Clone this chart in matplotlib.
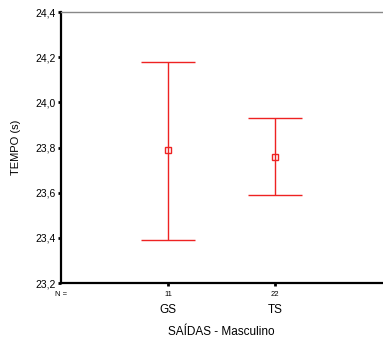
import matplotlib.pyplot as plt
import numpy as np
from matplotlib.ticker import FuncFormatter
import matplotlib.transforms as mtransforms

plt.rcParams['font.family'] = ['Liberation Sans', 'DejaVu Sans']

# Dados
grupos = ["GS", "TS"]
n_amostra = [11, 22]
medias = [23.79, 23.76]
limite_inferior = [23.39, 23.59]
limite_superior = [24.18, 23.93]

fig = plt.figure(figsize=(3.83, 3.47), dpi=100)
ax = fig.add_axes([0.159, 0.184, 0.839, 0.781])

x = np.arange(1, len(grupos) + 1)
erro_inf = np.array(medias) - np.array(limite_inferior)
erro_sup = np.array(limite_superior) - np.array(medias)
ax.errorbar(x, medias, yerr=[erro_inf, erro_sup], fmt='s', color='#ee2222',
            mfc='none', mec='#ee2222', ms=5, mew=1.0, elinewidth=1.0,
            capsize=19.5, capthick=1.0)

ax.set_xlim(0, 3)
ax.set_ylim(23.2, 24.4)
ax.set_yticks(np.arange(23.2, 24.41, 0.2))
ax.yaxis.set_major_formatter(FuncFormatter(lambda v, p: f"{v:.1f}".replace('.', ',')))
ax.set_xticks(x)
ax.set_xticklabels(grupos, fontsize=8.5)
ax.tick_params(axis='x', length=2, width=2, pad=13, direction='out')
ax.tick_params(axis='y', length=2, width=2, labelsize=7.5, pad=2, direction='out')

for lado in ['left', 'bottom']:
    ax.spines[lado].set_linewidth(1.6)
ax.spines['top'].set_color('#888888')
ax.spines['top'].set_linewidth(1.0)
ax.spines['right'].set_visible(False)

# Contagens N abaixo do eixo
trans = mtransforms.blended_transform_factory(ax.transData, ax.transAxes)
for xi, n in zip(x, n_amostra):
    ax.text(xi, -0.03, str(n), transform=trans, ha='center', va='top', fontsize=5.5)
ax.text(0.0, -0.03, "N =", transform=ax.transAxes, ha='center', va='top', fontsize=5.5)

ax.set_ylabel("TEMPO (s)", fontsize=8, labelpad=10)
ax.set_xlabel("SAÍDAS - Masculino", fontsize=8.5, labelpad=7)

fig.savefig("out.png", dpi=100)
